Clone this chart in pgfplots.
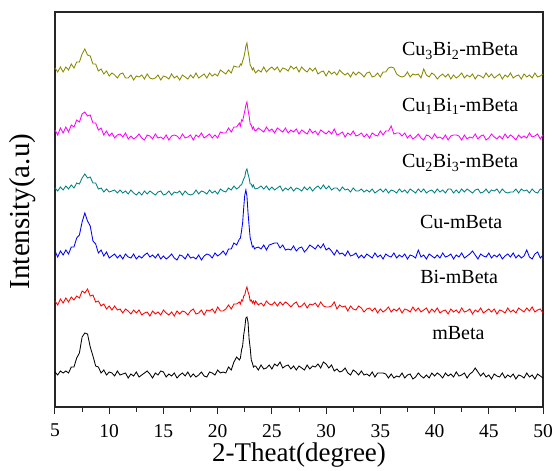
\documentclass[border=0pt]{standalone}
\usepackage{fontspec}
\setmainfont{Liberation Serif}
\usepackage{pgfplots}
\usepackage{pgfplotstable}
\pgfplotsset{compat=1.18}
\definecolor{cK}{RGB}{0,0,0}
\definecolor{cR}{RGB}{255,0,0}
\definecolor{cB}{RGB}{0,0,255}
\definecolor{cT}{RGB}{0,128,128}
\definecolor{cM}{RGB}{255,0,255}
\definecolor{cO}{RGB}{136,136,0}
\pgfplotstableread{
x k r b t m o
5 35 106 156 219 277 339
5.25 32 102 150 216 272 335
5.5 36 108 156 220 279 340
5.75 34 104 152 217 274 335
6 36 109 157 221 280 340
6.25 34 105 153 218 275 337
6.5 40 110 160 222 282 343
6.75 40 107 160 219 280 339
7 49 111 169 224 287 345
7.25 54 109 172 223 285 345
7.5 70 116 185 229 293 353
7.75 74 114 194 233 295 358
8 73 118 186 229 291 352
8.25 60 111 181 230 292 351
8.5 51 112 166 224 284 343
8.75 41 105 163 224 284 343
9 40 106 154 218 277 336
9.25 34 101 157 219 279 338
9.5 37 103 151 215 272 333
9.75 32 98 155 218 276 336
10 35 101 149 215 271 331
10.25 34 97 151 216 274 334
10.5 31 101 153 217 269 332
10.75 36 97 149 214 272 329
11 32 98 152 217 273 333
11.25 33 94 148 214 270 334
11.5 34 98 153 216 274 329
11.75 29 96 150 213 268 329
12 33 93 149 217 271 332
12.25 31 97 153 214 268 327
12.5 35 94 148 212 270 331
12.75 30 97 151 215 273 330
13 32 92 149 212 269 332
13.25 34 94 152 216 267 328
13.5 36 95 154 213 272 333
13.75 33 91 150 216 271 329
14 29 96 152 214 268 328
14.25 34 93 149 212 273 329
14.5 32 95 153 215 269 332
14.75 36 92 148 216 270 327
15 35 97 151 212 268 331
15.25 30 94 148 213 272 330
15.5 33 92 150 216 267 328
15.75 31 95 153 212 271 333
16 34 91 149 215 272 329
16.25 29 96 147 214 271 331
16.5 32 93 152 216 268 327
16.75 34 96 151 212 273 332
17 31 95 148 216 269 330
17.25 35 92 153 213 270 328
17.5 30 96 149 212 272 332
17.75 33 98 150 213 267 329
18 30 93 148 217 272 334
18.25 32 94 152 213 270 329
18.5 35 97 147 216 274 331
18.75 31 92 151 215 269 333
19 30 97 153 213 271 329
19.25 35 96 152 217 273 334
19.5 34 98 149 214 269 331
19.75 32 94 154 216 272 333
20 37 100 151 213 269 331
20.25 34 96 153 218 275 337
20.5 35 96 156 216 274 335
20.75 34 98 152 215 274 333
21 40 102 158 219 279 337
21.25 37 98 158 217 275 334
21.5 45 103 164 221 280 341
21.75 50 103 162 218 280 340
22.0 47 105 168 220 284 340
22.1 49 103 169 222 281 343
22.2 57 107 176 222 287 342
22.3 61 106 184 225 286 346
22.4 72 111 199 228 291 349
22.5 79 112 212 230 296 354
22.6 89 117 217 236 302 361
22.7 90 120 211 238 305 364
22.8 85 115 194 233 297 356
22.9 68 112 181 229 291 350
23.0 59 106 169 223 283 342
23.1 47 107 165 223 282 340
23.2 44 104 160 220 278 337
23.3 40 106 161 222 280 339
23.4 41 103 158 219 277 336
23.5 41 106 159 218 276 334
23.75 37 102 160 219 279 337
24 42 104 158 221 277 335
24.25 38 101 162 218 275 340
24.5 39 106 157 221 280 335
24.75 42 103 162 217 276 338
25 38 102 163 220 278 340
25.25 43 105 164 217 274 337
25.5 41 101 164 219 279 340
25.75 45 105 159 221 277 335
26 39 102 162 216 275 339
26.25 41 105 157 219 279 338
26.5 42 103 158 217 274 336
26.75 38 100 157 220 277 341
27 41 103 161 216 275 338
27.25 37 105 156 219 278 340
27.5 41 100 159 218 273 335
27.75 39 101 160 216 277 340
28 37 104 155 220 275 337
28.25 42 99 158 217 273 335
28.5 38 103 162 220 278 339
28.75 41 102 160 216 274 336
29 40 104 158 219 276 339
29.25 43 100 162 221 272 333
29.5 39 105 159 218 277 335
29.75 45 101 163 222 275 336
30 43 100 157 218 273 331
30.25 39 100 159 221 276 336
30.5 42 101 156 217 273 333
30.75 36 105 152 219 278 335
31 38 98 157 219 272 332
31.25 35 102 153 216 273 337
31.5 36 100 154 220 275 334
31.75 39 101 151 217 270 332
32 34 96 156 218 274 334
32.25 32 101 151 215 272 330
32.5 37 98 152 219 276 335
32.75 35 97 154 216 271 332
33 32 101 149 216 272 335
33.25 36 99 152 218 274 333
33.5 32 95 149 215 270 330
33.75 33 98 153 217 273 334
34 31 99 151 215 269 335
34.25 35 96 149 218 274 330
34.5 30 99 154 214 272 331
34.75 34 94 150 216 271 334
35 34 98 152 218 276 330
35.25 34 95 148 215 272 335
35.5 33 97 153 218 276 335
35.75 29 100 151 214 276 339
36 33 95 150 217 281 340
36.25 29 98 154 216 273 339
36.5 31 96 149 214 274 333
36.75 30 99 152 218 274 331
37 34 94 150 215 271 330
37.25 29 98 153 217 274 331
37.5 32 97 148 214 269 335
37.75 33 95 152 218 272 330
38 28 100 151 216 268 333
38.25 30 96 149 214 270 332
38.5 34 99 157 218 273 333
38.75 31 95 150 215 269 329
39 29 97 152 218 267 338
39.25 32 99 148 214 272 332
39.5 29 94 153 216 271 330
39.75 34 98 151 217 268 334
40 31 95 149 214 273 332
40.25 34 99 152 218 269 328
40.5 32 94 149 215 270 331
40.75 29 96 154 217 268 333
41 34 97 150 214 272 330
41.25 31 93 151 218 267 333
41.5 33 98 153 218 271 328
41.75 30 95 148 214 272 332
42 35 97 152 217 272 329
42.25 31 94 150 214 271 331
42.5 32 99 154 218 267 334
42.75 34 95 149 215 272 329
43 29 96 151 218 268 332
43.25 33 98 153 216 270 330
43.5 35 93 156 214 269 333
43.75 39 97 152 217 273 328
44 35 95 148 218 268 332
44.25 31 99 153 214 271 331
44.5 34 94 151 215 272 329
44.75 30 96 150 218 267 334
45 32 98 154 214 269 330
45.25 28 95 149 217 273 333
45.5 33 98 152 216 270 329
45.75 31 93 150 218 268 331
46 30 97 153 214 271 333
46.25 34 96 148 218 268 328
46.5 29 94 151 215 273 332
46.75 32 99 153 214 269 330
47 30 95 150 215 272 334
47.25 33 97 154 215 270 329
47.5 28 94 149 218 267 331
47.75 32 99 152 214 272 332
48 31 97 149 218 269 328
48.25 29 95 151 216 271 333
48.5 34 99 157 217 269 330
48.75 30 96 150 214 274 332
49 32 100 148 218 270 329
49.25 28 95 153 215 271 334
49.5 33 97 155 214 273 330
49.75 31 98 149 218 268 331
50 29 94 152 217 272 333
}\xrd
\begin{document}
\begin{tikzpicture}
\path[use as bounding box] (-55pt,-64pt) rectangle (499pt,407pt);
\begin{axis}[
  at={(0pt,0pt)}, anchor=south west,
  scale only axis, width=488pt, height=395pt,
  xmin=5, xmax=50, ymin=0, ymax=395,
  xtick={5,10,...,50}, minor x tick num=1, ytick=\empty,
  tick align=outside, xtick pos=bottom,
  major tick length=7pt, minor tick length=5pt,
  axis line style={line width=1.2pt, black!85},
  every tick/.style={black!85, line width=1pt},
  every minor tick/.style={black!85, line width=1pt},
  /pgf/number format/assume math mode=true,
  xticklabel style={font=\fontsize{19.5}{19.5}\selectfont, inner sep=0pt, yshift=-10pt},
  xlabel={2-Theat(degree)}, ylabel={Intensity(a.u)},
  every axis x label/.style={at={(axis description cs:0.5,-0.1228)}, anchor=center, inner sep=0pt, font=\fontsize{27}{27}\selectfont},
  every axis y label/.style={at={(axis description cs:-0.0656,0.495)}, rotate=90, anchor=center, inner sep=0pt, font=\fontsize{29}{29}\selectfont},
  clip=false,
]
\addplot[cK, line width=0.85pt] table[x=x,y=k]{\xrd};
\addplot[cR, line width=0.85pt] table[x=x,y=r]{\xrd};
\addplot[cB, line width=0.85pt] table[x=x,y=b]{\xrd};
\addplot[cT, line width=0.85pt] table[x=x,y=t]{\xrd};
\addplot[cM, line width=0.85pt] table[x=x,y=m]{\xrd};
\addplot[cO, line width=0.85pt] table[x=x,y=o]{\xrd};
\begin{scope}[every node/.style={font=\fontsize{20}{20}\selectfont}]
\node at (axis cs:42.36,356) {Cu\textsubscript{3}Bi\textsubscript{2}-mBeta};
\node at (axis cs:42.36,301) {Cu\textsubscript{1}Bi\textsubscript{1}-mBeta};
\node at (axis cs:42.36,244) {Cu\textsubscript{2}Bi\textsubscript{3}-mBeta};
\node at (axis cs:42.45,185) {Cu-mBeta};
\node at (axis cs:42.27,130) {Bi-mBeta};
\node at (axis cs:42.2,74) {mBeta};
\end{scope}
\end{axis}
\end{tikzpicture}
\end{document}
